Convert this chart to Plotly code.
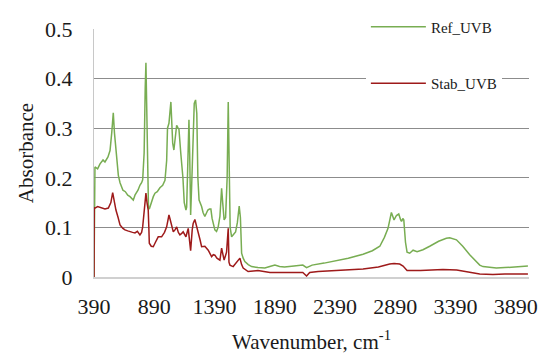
import plotly.graph_objects as go

# Ref_UVB spectrum (wavenumber cm-1, absorbance)
ref_wn = [390, 392, 398, 420, 440, 465, 481, 506, 523, 537, 550, 560, 578, 592, 606, 630, 650, 670, 689, 705,
          716, 730, 744, 755, 771, 785, 794, 806, 815, 821, 827, 835, 842, 849, 865, 882, 896, 915, 937, 960,
          979, 993, 1000, 1012, 1028, 1035, 1043, 1053, 1065, 1076, 1088, 1095, 1110, 1128, 1139, 1153, 1159, 1165, 1172, 1178,
          1184, 1192, 1200, 1213, 1222, 1233, 1243, 1252, 1262, 1283, 1295, 1310, 1322, 1335, 1348, 1360, 1370, 1377, 1393, 1407,
          1420, 1435, 1449, 1458, 1470, 1482, 1495, 1504, 1512, 1520, 1532, 1545, 1565, 1580, 1595, 1605, 1615, 1628, 1642, 1670,
          1698, 1750, 1808, 1849, 1891, 1930, 1971, 2050, 2123, 2154, 2200, 2300, 2403, 2500, 2623, 2700, 2762, 2800, 2830, 2850,
          2858, 2870, 2880, 2900, 2919, 2935, 2942, 2955, 2961, 2975, 2988, 3010, 3038, 3071, 3120, 3176, 3250, 3314, 3342, 3398,
          3450, 3508, 3560, 3591, 3618, 3674, 3729, 3800, 3900, 3991]
ref_abs = [0.0, 0.21, 0.222, 0.218, 0.228, 0.236, 0.232, 0.242, 0.255, 0.29, 0.331, 0.29, 0.232, 0.205, 0.19, 0.175, 0.172, 0.165, 0.162, 0.158,
           0.155, 0.165, 0.17, 0.175, 0.185, 0.19, 0.196, 0.25, 0.38, 0.432, 0.35, 0.2, 0.14, 0.137, 0.15, 0.162, 0.169, 0.172, 0.18, 0.185,
           0.195, 0.235, 0.3, 0.31, 0.353, 0.32, 0.27, 0.256, 0.29, 0.306, 0.3, 0.298, 0.25, 0.2, 0.15, 0.135, 0.141, 0.2, 0.3, 0.317,
           0.25, 0.125, 0.18, 0.3, 0.35, 0.357, 0.33, 0.2, 0.155, 0.142, 0.13, 0.122, 0.13, 0.135, 0.137, 0.137, 0.118, 0.109, 0.095, 0.092,
           0.1, 0.122, 0.179, 0.15, 0.115, 0.12, 0.2, 0.353, 0.2, 0.1, 0.081, 0.085, 0.091, 0.11, 0.143, 0.12, 0.048, 0.038, 0.031, 0.025,
           0.021, 0.019, 0.018, 0.021, 0.024, 0.021, 0.02, 0.022, 0.024, 0.019, 0.024, 0.028, 0.033, 0.038, 0.046, 0.053, 0.062, 0.08, 0.098, 0.12,
           0.13, 0.122, 0.115, 0.124, 0.127, 0.115, 0.112, 0.118, 0.115, 0.07, 0.05, 0.048, 0.054, 0.051, 0.055, 0.062, 0.072, 0.078, 0.079, 0.075,
           0.062, 0.045, 0.032, 0.024, 0.021, 0.019, 0.018, 0.019, 0.021, 0.022]

# Stab_UVB spectrum
stab_wn = [390, 392, 398, 420, 440, 460, 481, 509, 530, 545, 560, 572, 590, 606, 630, 647, 670, 689, 710, 730,
           750, 771, 785, 794, 807, 815, 821, 830, 840, 845, 849, 865, 882, 900, 923, 951, 975, 993, 1005, 1012,
           1020, 1028, 1048, 1062, 1076, 1090, 1103, 1118, 1130, 1153, 1165, 1172, 1180, 1192, 1205, 1213, 1227, 1240, 1255, 1270,
           1283, 1310, 1338, 1366, 1380, 1393, 1410, 1435, 1449, 1462, 1470, 1490, 1500, 1504, 1510, 1518, 1545, 1587, 1601, 1615,
           1628, 1669, 1750, 1850, 1971, 2050, 2123, 2154, 2180, 2250, 2347, 2500, 2623, 2750, 2803, 2844, 2880, 2927, 2955, 2988,
           3100, 3286, 3400, 3452, 3520, 3591, 3700, 3800, 3991]
stab_abs = [0.0, 0.14, 0.139, 0.142, 0.14, 0.138, 0.137, 0.139, 0.15, 0.17, 0.15, 0.135, 0.12, 0.105, 0.098, 0.095, 0.093, 0.091, 0.09, 0.089,
            0.092, 0.085, 0.09, 0.101, 0.128, 0.15, 0.169, 0.15, 0.135, 0.1, 0.068, 0.062, 0.061, 0.07, 0.081, 0.081, 0.09, 0.101, 0.115, 0.125,
            0.118, 0.111, 0.091, 0.095, 0.101, 0.09, 0.085, 0.088, 0.091, 0.081, 0.09, 0.098, 0.08, 0.053, 0.095, 0.108, 0.116, 0.105, 0.091, 0.075,
            0.061, 0.062, 0.054, 0.041, 0.045, 0.044, 0.038, 0.034, 0.058, 0.045, 0.034, 0.05, 0.098, 0.098, 0.03, 0.024, 0.021, 0.034, 0.038, 0.025,
            0.018, 0.011, 0.013, 0.009, 0.009, 0.01, 0.009, 0.002, 0.009, 0.011, 0.012, 0.014, 0.016, 0.02, 0.024, 0.026, 0.027, 0.026, 0.022, 0.013,
            0.013, 0.015, 0.014, 0.012, 0.009, 0.006, 0.005, 0.006, 0.006]

x_ticks = [390, 890, 1390, 1890, 2390, 2890, 3390, 3890]
y_ticks = [0, 0.1, 0.2, 0.3, 0.4, 0.5]
y_tick_text = ["0", "0.1", "0.2", "0.3", "0.4", "0.5"]

FONT = "'Liberation Serif', 'Times New Roman', 'DejaVu Serif', serif"

fig = go.Figure()
fig.add_trace(go.Scatter(x=ref_wn, y=ref_abs, mode="lines", name="Ref_UVB", legendgroup="a",
                         line=dict(color="#78ad52", width=1.5)))
fig.add_trace(go.Scatter(x=stab_wn, y=stab_abs, mode="lines", name="Stab_UVB", legendgroup="b",
                         line=dict(color="#9e1a1a", width=1.5)))

fig.update_layout(
    width=539, height=354,
    margin=dict(l=94, r=10, t=29, b=77),
    paper_bgcolor="white", plot_bgcolor="white",
    font=dict(family=FONT, size=22, color="#1a1a1a"),
    legend=dict(x=0.625, y=1.075, xanchor="left", yanchor="top",
                bgcolor="white", font=dict(family=FONT, size=15, color="#1a1a1a"),
                traceorder="grouped", tracegroupgap=34, itemwidth=55,
                entrywidth=150, entrywidthmode="pixels"),
    xaxis=dict(range=[390, 4000], tickvals=x_ticks, ticktext=[str(v) for v in x_ticks],
               showgrid=False, zeroline=False, showline=True, linecolor="#d0d0d0", linewidth=2,
               ticks="", automargin=False,
               ticklabelstandoff=9,
               title=dict(text="Wavenumber, cm<sup>-1</sup>", font=dict(family=FONT, size=21), standoff=21)),
    yaxis=dict(range=[0, 0.5], tickvals=y_ticks, ticktext=y_tick_text,
               showgrid=True, gridcolor="#8c8c8c", gridwidth=1, zeroline=False,
               showline=True, linecolor="#c8c8c8", linewidth=1, ticks="", automargin=False,
               ticklabelstandoff=16,
               title=dict(text="Absorbance", font=dict(family=FONT, size=21), standoff=5)),
    showlegend=True,
)

fig.write_html("out.html")
